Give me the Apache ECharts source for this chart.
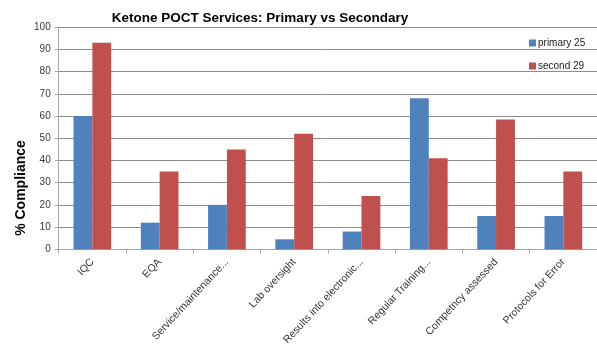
<!DOCTYPE html>
<html>
<head>
<meta charset="utf-8">
<script src="https://cdn.jsdelivr.net/npm/echarts@6/dist/echarts.min.js"></script>
<style>
  html, body { margin: 0; padding: 0; background: #fff; }
  #chart { width: 597px; height: 358px; }
</style>
</head>
<body>
<div id="chart"></div>
<script>
// Ketone POCT service compliance, primary vs secondary care
const categories = [
  'IQC', 'EQA', 'Service/maintenance...', 'Lab oversight',
  'Results into electronic...', 'Regular Training...', 'Competncy assessed', 'Protocols for Error'
];
const primaryName = 'primary 25';
const secondName = 'second 29';
const primaryValues = [60, 12, 20, 4.5, 8, 68, 15, 15];
const secondValues = [93, 35, 45, 52, 24, 41, 58.5, 35];
const yTicks = { min: 0, max: 100, interval: 10 };

const FONT = 'Liberation Sans, Arial, sans-serif';
const chart = echarts.init(document.getElementById('chart'), null, { renderer: 'canvas' });

chart.setOption({
  animation: false,
  title: {
    text: 'Ketone POCT Services: Primary vs Secondary',
    left: 255, top: 6, textAlign: 'center',
    textStyle: { fontFamily: FONT, fontSize: 13.5, fontWeight: 'bold', color: '#000' }
  },
  legend: {
    orient: 'vertical', left: 524, top: 33, itemGap: 13,
    itemWidth: 7, itemHeight: 7, icon: 'rect',
    textStyle: { fontFamily: FONT, fontSize: 10, color: '#222', padding: [0, 0, 0, -3] },
    data: [primaryName, secondName]
  },
  grid: { left: 58.7, right: -2, top: 27.3, bottom: 108.7, containLabel: false },
  xAxis: {
    type: 'category', data: categories,
    axisLine: { lineStyle: { color: '#a6a6a6' } },
    axisTick: { show: true, alignWithLabel: false, length: 4, lineStyle: { color: '#a6a6a6' } },
    axisLabel: {
      rotate: 47, interval: 0, margin: 11,
      fontFamily: FONT, fontSize: 10.5, color: '#333'
    }
  },
  yAxis: {
    type: 'value', min: yTicks.min, max: yTicks.max, interval: yTicks.interval,
    axisLine: { show: true, lineStyle: { color: '#a6a6a6' } },
    axisTick: { show: true, length: 4, lineStyle: { color: '#a6a6a6' } },
    axisLabel: { fontFamily: FONT, fontSize: 10, color: '#3a3a3a', margin: 8 },
    splitLine: { lineStyle: { color: '#8c8c8c', width: 1 } }
  },
  graphic: [{
    type: 'text', x: 21, y: 188, rotation: Math.PI / 2,
    style: {
      text: '% Compliance', fill: '#000',
      font: 'bold 14px ' + FONT, align: 'center', verticalAlign: 'middle'
    }
  }],
  series: [
    {
      name: primaryName, type: 'bar', data: primaryValues,
      barGap: '0%', barCategoryGap: '44%',
      itemStyle: { color: '#4F81BD' }
    },
    {
      name: secondName, type: 'bar', data: secondValues,
      barGap: '0%', barCategoryGap: '44%',
      itemStyle: { color: '#C0504D' }
    }
  ]
});
</script>
</body>
</html>
